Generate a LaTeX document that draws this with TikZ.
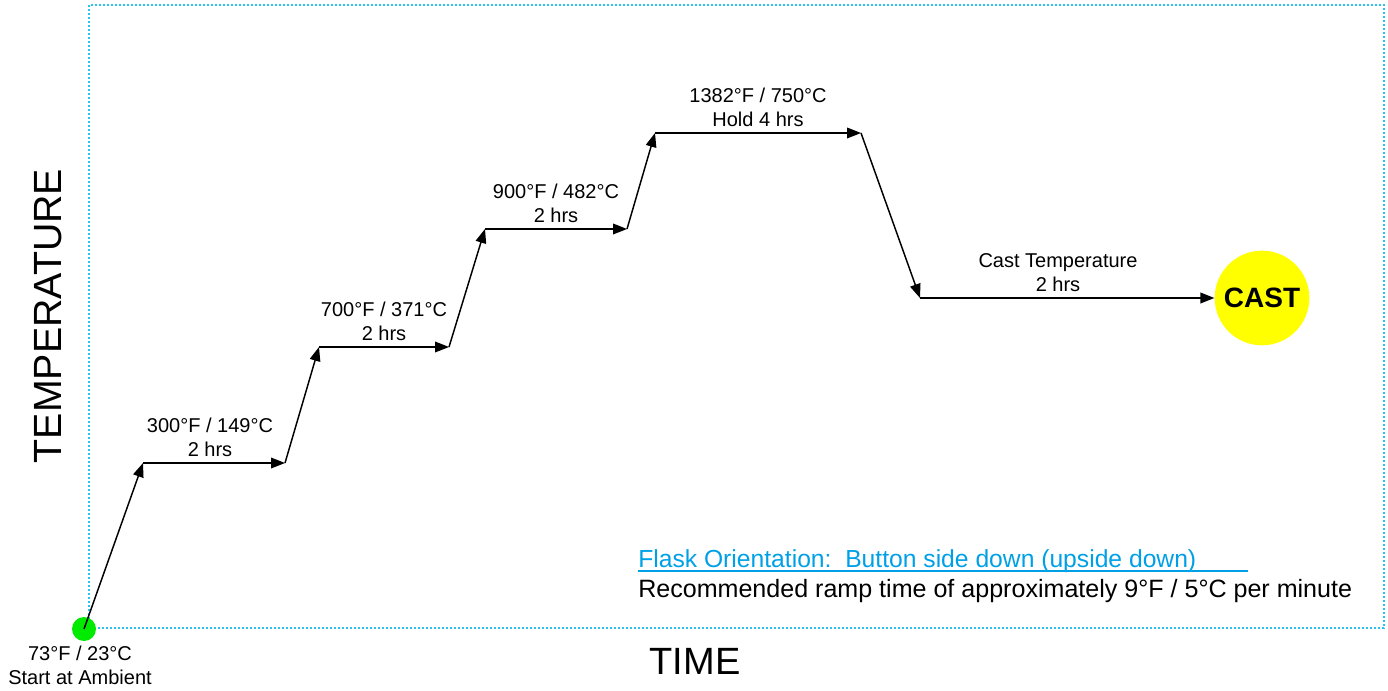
\documentclass[tikz,border=0pt]{standalone}
\usepackage{fontspec}
\setmainfont{Liberation Sans}
\usetikzlibrary{arrows.meta}
\definecolor{bordercyan}{RGB}{40,195,240}
\definecolor{flaskblue}{RGB}{0,160,230}
\definecolor{castyellow}{RGB}{255,255,0}
\definecolor{startgreen}{RGB}{0,235,0}
\begin{document}
\begin{tikzpicture}[x=0.75pt,y=-0.75pt,
  flow/.style={line width=1.1pt,-{Triangle[length=10.5pt,width=8pt]}},
  steplabel/.style={anchor=south,inner sep=0pt,text depth=0pt,align=center,font=\fontsize{15}{18}\selectfont},
  axislabel/.style={inner sep=0pt,font=\fontsize{28.5}{34}\selectfont},
  frame/.style={draw=bordercyan,line width=1.2pt,dash pattern=on 1.5pt off 1.5pt}]
\useasboundingbox (0,0) rectangle (1388,691);
\draw[frame] (89,5) rectangle (1384,628);

% path vertices
\coordinate (p1) at (143,463);
\coordinate (p2) at (285,463);
\coordinate (p3) at (319,347);
\coordinate (p4) at (449,347);
\coordinate (p5) at (485,229);
\coordinate (p6) at (627,229);
\coordinate (p7) at (655,133);
\coordinate (p8) at (861,133);
\coordinate (p9) at (920,298);

\node[circle,fill=startgreen,minimum size=18pt,inner sep=0pt] (start) at (84,629) {};
\node[circle,fill=castyellow,minimum size=71pt,inner sep=0pt,font=\fontsize{21}{25}\selectfont\bfseries] (cast) at (1262,298) {CAST};

\draw[flow] (start.center) -- (p1);
\draw[flow] (p1) -- (p2);
\draw[flow] (p2) -- (p3);
\draw[flow] (p3) -- (p4);
\draw[flow] (p4) -- (p5);
\draw[flow] (p5) -- (p6);
\draw[flow] (p6) -- (p7);
\draw[flow] (p7) -- (p8);
\draw[flow] (p8) -- (p9);
\draw[flow] (p9) -- (cast);

\node[steplabel] (l1) at (210,457) {300°F / 149°C\\2 hrs};
\node[steplabel] (l2) at (384,341) {700°F / 371°C\\2 hrs};
\node[steplabel] (l3) at (556,223) {900°F / 482°C\\2 hrs};
\node[steplabel] (l4) at (758,127) {1382°F / 750°C\\Hold 4 hrs};
\node[steplabel] (l5) at (1058,292) {Cast Temperature\\2 hrs};
\node[steplabel] (l0) at (80,685) {73°F / 23°C\\Start at Ambient};

\node[axislabel,rotate=90,font=\fontsize{29.5}{35}\selectfont] (temp) at (48,316) {TEMPERATURE};
\node[axislabel] (time) at (695,661) {TIME};

\node[anchor=base west,inner sep=0pt,text=flaskblue,font=\fontsize{18.5}{22}\selectfont] (flask) at (638,567) {Flask Orientation:\ \ Button side down (upside down)};
\draw[flaskblue,line width=1.5pt] (flask.base west) ++(0,3.5) coordinate (u1) -- (1248,570.5) coordinate (u2);
\node[anchor=base west,inner sep=0pt,font=\fontsize{18.8}{22}\selectfont] (ramp) at (638,597) {Recommended ramp time of approximately 9°F / 5°C per minute};
\end{tikzpicture}
\end{document}
